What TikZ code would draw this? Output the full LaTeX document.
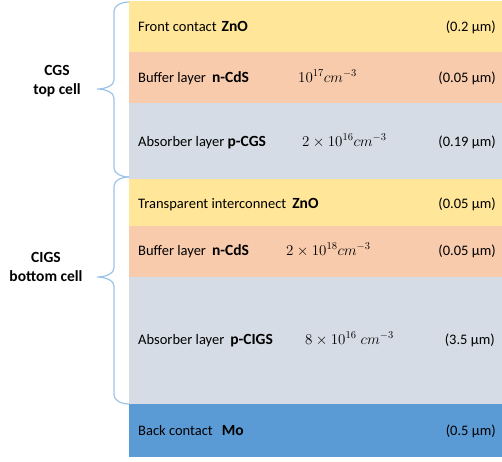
\RequirePackage{fix-cm}
\documentclass[tikz,border=0pt]{standalone}
\usepackage{fontspec}
\setmainfont{Carlito}
\usetikzlibrary{positioning}
\definecolor{zncol}{RGB}{255,230,153}
\definecolor{cdscol}{RGB}{248,203,173}
\definecolor{abscol}{RGB}{214,220,229}
\definecolor{mocol}{RGB}{91,155,213}
\definecolor{bracecol}{RGB}{157,195,230}
\newcommand{\matl}[1]{{\bfseries\fontsize{15.5}{17}\selectfont #1}}

\begin{document}
\begin{tikzpicture}[x=1pt, y=-1pt,
    layer/.style={anchor=north west, minimum width=373pt, inner sep=0pt, outer sep=0pt},
    lname/.style={anchor=base west, inner sep=0pt, font=\fontsize{14.5}{16}\selectfont},
    dope/.style={anchor=base west, inner sep=0pt, font=\fontsize{15}{17}\selectfont},
    thk/.style={anchor=base east, inner sep=0pt, font=\fontsize{14.5}{16}\selectfont},
    cell/.style={anchor=base, align=center, inner sep=0pt, font=\bfseries\fontsize{15.5}{18.5}\selectfont},
    cellbrace/.style={draw=bracecol, line width=1.2pt}]
    \useasboundingbox (0,0) rectangle (502,461);

    % =========================================================
    % LAYER STACK
    % =========================================================
    \node[layer, fill=zncol,  minimum height=51pt]  (front) at (129,1) {};
    \node[layer, fill=cdscol, minimum height=51pt]  (cdstop) at (front.south west) {};
    \node[layer, fill=abscol, minimum height=76pt]  (cgs) at (cdstop.south west) {};
    \node[layer, fill=zncol,  minimum height=47pt]  (inter) at (cgs.south west) {};
    \node[layer, fill=cdscol, minimum height=51pt]  (cdsbot) at (inter.south west) {};
    \node[layer, fill=abscol, minimum height=127pt] (cigs) at (cdsbot.south west) {};
    \node[layer, fill=mocol,  minimum height=53pt]  (back) at (cigs.south west) {};

    % Layer names
    \node[lname] (frontname)  at (138,31)  {Front contact\hspace{5pt}\matl{ZnO}};
    \node[lname] (cdstopname) at (138,82)  {Buffer layer\hspace{6pt}\matl{n-CdS}};
    \node[lname] (cgsname)    at (138,146) {Absorber layer \matl{p-CGS}};
    \node[lname] (intername)  at (138,208) {Transparent interconnect\hspace{6pt}\matl{ZnO}};
    \node[lname] (cdsbotname) at (138,255) {Buffer layer\hspace{6pt}\matl{n-CdS}};
    \node[lname] (cigsname)   at (138,344) {Absorber layer\hspace{6pt}\matl{p-CIGS}};
    \node[lname] (backname)   at (138,435) {Back contact\hspace{9pt}\matl{Mo}};

    % Doping levels
    \node[dope] (cdstopdope) at (298,82)  {$10^{17}cm^{-3}$};
    \node[dope] (cgsdope)    at (302,146) {$2\times10^{16}cm^{-3}$};
    \node[dope] (cdsbotdope) at (286,255) {$2\times10^{18}cm^{-3}$};
    \node[dope] (cigsdope)   at (305,344) {$8\times10^{16}\;cm^{-3}$};

    % Thicknesses
    \node[thk] (frontthk)  at (496,31)  {(0.2 µm)};
    \node[thk] (cdstopthk) at (496,82)  {(0.05 µm)};
    \node[thk] (cgsthk)    at (496,146) {(0.19 µm)};
    \node[thk] (interthk)  at (496,208) {(0.05 µm)};
    \node[thk] (cdsbotthk) at (496,255) {(0.05 µm)};
    \node[thk] (cigsthk)   at (495,344) {(3.5 µm)};
    \node[thk] (backthk)   at (496,435) {(0.5 µm)};

    % =========================================================
    % BRACES AND CELL LABELS
    % =========================================================
    % Top cell brace
    \draw[cellbrace] (129,2) .. controls (120.7,2) and (114,6) .. (114,11)
        -- (114,80) .. controls (114,85) and (106.4,89) .. (97,89)
        .. controls (106.4,89) and (114,93) .. (114,98)
        -- (114,168) .. controls (114,173) and (120.7,177) .. (129,177);
    % Bottom cell brace
    \draw[cellbrace] (129,177) .. controls (120.7,177) and (114,181) .. (114,186)
        -- (114,268) .. controls (114,273) and (106.4,277) .. (97,277)
        .. controls (106.4,277) and (114,281) .. (114,286)
        -- (114,395) .. controls (114,400) and (120.7,404) .. (129,404);

    \node[cell] (toplabel) at (57,94)  {CGS\\top cell};
    \node[cell] (botlabel) at (46,281) {CIGS\\bottom cell};
\end{tikzpicture}
\end{document}
